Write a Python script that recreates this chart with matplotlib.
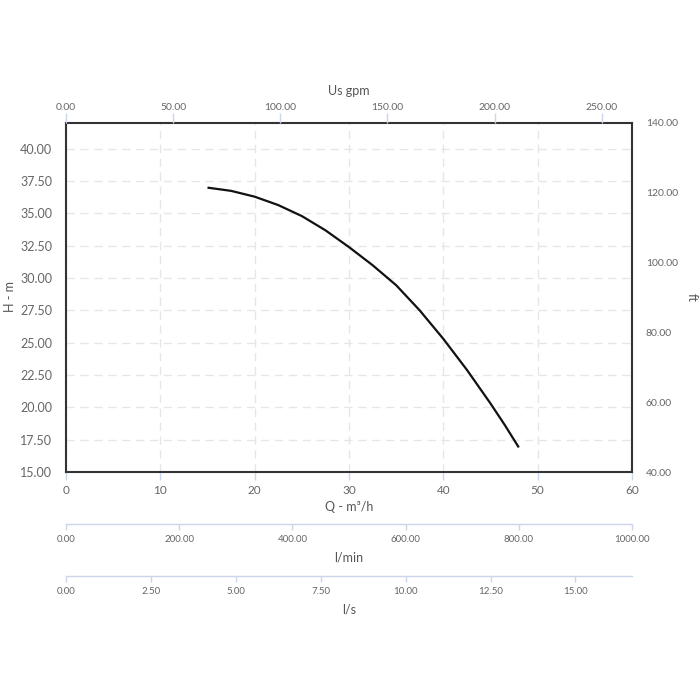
import numpy as np
import matplotlib
matplotlib.use("Agg")
import matplotlib.pyplot as plt

plt.rcParams["font.family"] = ["Lato", "DejaVu Sans"]

# pump curve
flow_m3h = [15, 17.5, 20, 22.5, 25, 27.5, 30, 32.5, 35, 37.5, 40, 42.5, 45, 46.5, 48]
head_m = [37.0, 36.75, 36.3, 35.65, 34.8, 33.7, 32.4, 31.0, 29.45, 27.5, 25.3, 22.9, 20.3, 18.65, 16.9]

q_ticks = [0, 10, 20, 30, 40, 50, 60]
h_ticks = [15.0, 17.5, 20.0, 22.5, 25.0, 27.5, 30.0, 32.5, 35.0, 37.5, 40.0]
ft_ticks = [40, 60, 80, 100, 120, 140]
gpm_ticks = [0, 50, 100, 150, 200, 250]
lmin_ticks = [0, 200, 400, 600, 800, 1000]
ls_ticks = [0, 2.5, 5, 7.5, 10, 12.5, 15]

q_max = 60
gpm_per_m3h = 4.40287

tick_col = "#666666"
label_col = "#555555"
axis_blue = "#ccd6eb"
grid_col = "#e6e6e6"

fig = plt.figure(figsize=(7, 7), dpi=100)
L, R = 66 / 700, 632 / 700
ax = fig.add_axes([L, 1 - 472 / 700, R - L, (472 - 123) / 700])

ax.plot(flow_m3h, head_m, color="#111111", lw=1.6, solid_joinstyle="round", solid_capstyle="butt")
ax.set_xlim(0, q_max)
ax.set_ylim(15, 42)
ax.set_xticks(q_ticks)
ax.set_yticks(h_ticks)
ax.set_yticklabels([f"{v:.2f}" for v in h_ticks])
ax.grid(True, color=grid_col, linestyle=(0, (6, 4)), lw=1)
ax.tick_params(axis="x", colors=axis_blue, labelcolor=tick_col, labelsize=8.5, length=6, width=1, pad=3)
ax.tick_params(axis="y", length=0, labelcolor=tick_col, labelsize=9, pad=10)
for s in ax.spines.values():
    s.set_color("#333333")
    s.set_linewidth(1.5)
ax.set_xlabel("Q - m³/h", color=label_col, fontsize=9, labelpad=4)

# right axis in ft
axr = ax.twinx()
axr.set_ylim(40, 140)
axr.set_yticks(ft_ticks)
axr.set_yticklabels([f"{v:.2f}" for v in ft_ticks])
axr.tick_params(axis="y", length=0, labelcolor=tick_col, labelsize=7.5, pad=10)
for s in axr.spines.values():
    s.set_visible(False)

# side titles
fig.text(10 / 700, 1 - 297 / 700, "H - m", color=label_col, fontsize=9,
         rotation=90, ha="center", va="center")
fig.text(692 / 700, 1 - 297 / 700, "ft", color=label_col, fontsize=9,
         rotation=-90, ha="center", va="center")

# top axis in US gpm
axt = ax.twiny()
axt.set_xlim(0, q_max * gpm_per_m3h)
axt.set_xticks(gpm_ticks)
axt.set_xticklabels([f"{v:.2f}" for v in gpm_ticks])
axt.tick_params(axis="x", colors=axis_blue, labelcolor=tick_col, labelsize=7.5, length=7, width=1, pad=1)
axt.set_xlabel("Us gpm", color=label_col, fontsize=9, labelpad=6)
for s in axt.spines.values():
    s.set_visible(False)


def flow_axis(ypix, xmax, ticks, label):
    a = fig.add_axes([L, 1 - ypix / 700, R - L, 0.0001])
    a.set_xlim(0, xmax)
    a.set_xticks(ticks)
    a.set_xticklabels([f"{v:.2f}" for v in ticks])
    a.set_yticks([])
    for k in ["top", "left", "right"]:
        a.spines[k].set_visible(False)
    a.spines["bottom"].set_color(axis_blue)
    a.spines["bottom"].set_linewidth(1)
    a.tick_params(axis="x", colors=axis_blue, labelcolor=tick_col, labelsize=7, length=4, width=1, pad=4)
    a.set_xlabel(label, color=label_col, fontsize=9, labelpad=5)
    a.patch.set_visible(False)
    return a


flow_axis(524, 1000, lmin_ticks, "l/min")
flow_axis(576, q_max / 3.6, ls_ticks, "l/s")

fig.savefig("out.png", dpi=100)
